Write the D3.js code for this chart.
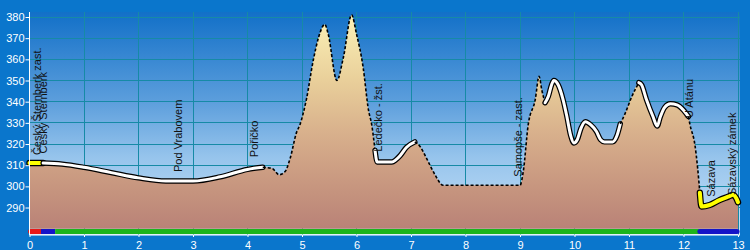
<!DOCTYPE html>
<html><head><meta charset="utf-8">
<script src="https://cdn.jsdelivr.net/npm/d3@7"></script>
<style>html,body{margin:0;padding:0;background:#0a76cc;overflow:hidden}</style>
</head><body>
<svg id="c" width="750" height="250"></svg>
<script>
// ---- data ----
const profileKm = [0,0.25,0.6,1.0,1.5,2.0,2.5,3.0,3.5,4.0,4.28,4.45,4.58,4.69,4.78,4.9,4.96,5.08,5.21,5.3,5.42,5.48,5.64,5.76,5.91,6.0,6.12,6.22,6.28,6.34,6.38,6.65,6.72,6.8,6.92,7.07,7.17,7.29,7.44,7.59,9.0,9.06,9.15,9.28,9.35,9.4,9.46,9.52,9.58,9.62,9.7,9.79,9.86,9.93,9.99,10.05,10.12,10.2,10.3,10.4,10.48,10.55,10.7,10.78,10.84,10.93,11.05,11.18,11.23,11.32,11.44,11.52,11.57,11.66,11.76,11.88,12.0,12.09,12.12,12.21,12.26,12.3,12.33,12.48,12.66,12.82,12.91,12.97,13.0];
const profileAlt = [311,311,310.5,309,306.5,304,302.5,302.5,304.5,308,309,308.5,305.5,307,313,325.5,329,341,360,370,376.5,372,350,361,381,372,356.5,336,329,317,311.5,311.5,312.5,314.5,318.5,321,318.7,313,305.5,300.5,300.5,307,329,341,352,345.5,339.5,342.5,348,350,348,341,333,324,320.5,322,327.5,330.5,329,326,322,321,321,324,329.5,334.5,342.3,349,348,341,333,328.5,332.5,337.5,339,338.5,336,333,329,319.5,308.5,297,290.5,291.2,293.5,295.1,296,294.3,292.5];
const segStart = [0,0.25,4.28,6.34,7.07,9.46,10.84,11.18,12.09,12.3];
const segEnd   = [0.25,4.28,6.34,7.07,9.46,10.84,11.18,12.09,12.3,13];
const segType  = ["yellow","white","dashed","white","dashed","white","dashed","white","dashed","yellow"];
const barStart = [0,0.21,0.47,12.3];
const barEnd   = [0.21,0.47,12.3,13];
const barColor = ["#e81818","#1414c8","#1cb41c","#1414c8"];
const stopNames = ["Český Šternberk zast.","Český Šternberk","Pod Vrabovem","Pořičko","Ledečko - žst.","Samopše - zast.","U Atánu","Sázava","Sázavský zámek"];
const stopKm  = [0.22,0.32,2.80,4.20,6.47,9.03,12.17,12.58,12.96];
const stopAlt = [311,311.8,303,310,312.6,300.8,328.5,291.3,292.1];
const xTicks = [0,1,2,3,4,5,6,7,8,9,10,11,12,13];
const yTicks = [290,300,310,320,330,340,350,360,370,380];

// ---- layout ----
const svg = d3.select("#c");
const plotL = 30, plotR = 740, plotT = 12, plotB = 235;
const x = d3.scaleLinear().domain([0,13]).range([29.5,738]);
const y = d3.scaleLinear().domain([280,380]).range([228.7,17]);
const font = "'Liberation Sans', Arial, sans-serif";

const defs = svg.append("defs");
const bg = defs.append("linearGradient").attr("id","bg").attr("gradientUnits","userSpaceOnUse")
  .attr("x1",0).attr("x2",0).attr("y1",plotT).attr("y2",plotB);
[[0,"rgb(18,112,200)"],[0.4,"rgb(92,158,220)"],[0.65,"rgb(150,196,236)"],[1,"rgb(200,225,248)"]]
  .forEach(s=>bg.append("stop").attr("offset",s[0]).attr("stop-color",s[1]));
const fg = defs.append("linearGradient").attr("id","fg").attr("gradientUnits","userSpaceOnUse")
  .attr("x1",0).attr("x2",0).attr("y1",y(380)).attr("y2",y(280));
[[0,"#fbf1b6"],[0.3,"#e9cf9a"],[0.55,"#d8b08c"],[0.8,"#c7967f"],[1,"#b98277"]]
  .forEach(s=>fg.append("stop").attr("offset",s[0]).attr("stop-color",s[1]));

svg.append("rect").attr("width",750).attr("height",250).attr("fill","#0a76cc");
svg.append("rect").attr("x",plotL).attr("y",plotT).attr("width",plotR-plotL).attr("height",plotB-plotT).attr("fill","url(#bg)");

// grid
const grid = svg.append("g").attr("stroke","#168aa6").attr("stroke-width",1).attr("shape-rendering","crispEdges");
xTicks.filter(d=>d>0).forEach(d=>grid.append("line").attr("x1",x(d)).attr("x2",x(d)).attr("y1",plotT).attr("y2",plotB));
yTicks.forEach(d=>grid.append("line").attr("x1",plotL).attr("x2",plotR).attr("y1",y(d)).attr("y2",y(d)));

// area
const pts = profileKm.map((k,i)=>[k,profileAlt[i]]);
const area = d3.area().x(d=>x(d[0])).y0(y(280)).y1(d=>y(d[1])).curve(d3.curveMonotoneX);
svg.append("path").datum(pts).attr("d",area).attr("fill","url(#fg)");

// route line segments
const line = d3.line().x(d=>x(d[0])).y(d=>y(d[1])).curve(d3.curveMonotoneX);
segType.forEach((t,i)=>{
  const seg = pts.filter(p=>p[0]>=segStart[i]-1e-9 && p[0]<=segEnd[i]+1e-9);
  if(t==="dashed"){
    svg.append("path").datum(seg).attr("d",line).attr("fill","none").attr("stroke","#000")
      .attr("stroke-width",1.6).attr("stroke-dasharray","3,2");
  } else {
    const col = t==="yellow" ? "#ffff00" : "#ffffff";
    const w = t==="yellow" ? 4 : 3;
    svg.append("path").datum(seg).attr("d",line).attr("fill","none").attr("stroke","#000")
      .attr("stroke-width",w+2.4).attr("stroke-linejoin","round").attr("stroke-linecap","round");
    svg.append("path").datum(seg).attr("d",line).attr("fill","none").attr("stroke",col)
      .attr("stroke-width",w).attr("stroke-linejoin","round").attr("stroke-linecap","round");
  }
});

// bottom bar
barColor.forEach((c,i)=>{
  svg.append("line").attr("x1",x(barStart[i])+ (i===0?1:0)).attr("x2",x(barEnd[i]) - (i===barColor.length-1?1:0))
    .attr("y1",231.5).attr("y2",231.5).attr("stroke",c).attr("stroke-width",5)
    .attr("stroke-linecap", (i===0||i===barColor.length-1)?"round":"butt");
});

// stop labels
stopNames.forEach((n,i)=>{
  svg.append("text").attr("transform",`translate(${x(stopKm[i])},${y(stopAlt[i])-8}) rotate(-90)`)
    .attr("font-family",font).attr("font-size",11).attr("fill","#111").text(n);
});

// axes
const yAxis = d3.axisLeft(y).tickValues(yTicks).tickSize(4).tickPadding(1);
const gy = svg.append("g").attr("transform","translate(29.5,0)").call(yAxis);
const xAxis = d3.axisBottom(x).tickValues(xTicks).tickSize(2).tickPadding(4).tickFormat(d3.format("d"));
const gx = svg.append("g").attr("transform","translate(0,235)").call(xAxis);
[gy,gx].forEach(g=>{
  g.select(".domain").remove();
  g.selectAll("line").attr("stroke","#fff");
  g.selectAll("text").attr("fill","#fff").attr("font-family",font).attr("font-size",11);
});
svg.append("line").attr("x1",29.5).attr("x2",29.5).attr("y1",plotT).attr("y2",plotB).attr("stroke","#fff");
svg.append("line").attr("x1",29.5).attr("x2",plotR).attr("y1",plotB).attr("y2",plotB).attr("stroke","#fff");
</script>
</body></html>
